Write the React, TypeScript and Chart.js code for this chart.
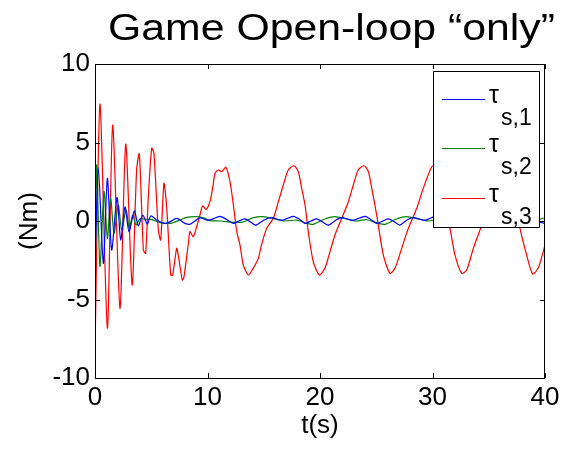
import React, { useEffect, useRef } from "react";
import { Chart, registerables } from "chart.js";

Chart.register(...registerables);

const FONT = '"Liberation Sans", Arial, Helvetica, sans-serif';

const titleText = "Game Open-loop \u201Conly\u201D";
const xTitle = "t(s)";
const yTitle = "(Nm)";
const legendMain = "\u03C4";
const legendSubs = ["s,1", "s,2", "s,3"];
const seriesColors = ["#0000ff", "#008000", "#ff0000"];

const xTicks = [0, 10, 20, 30, 40];
const yTicks = [-10, -5, 0, 5, 10];

// tau_s,1 (blue)
const tS1 = [
  0, 0.3, 0.74, 1.1, 1.48, 1.96, 2.28, 2.67, 3.02, 3.5, 3.85, 4.24, 4.65, 4.95, 5.5, 6.22, 6.7, 7.26, 8.0, 8.44,
  9.33, 9.93, 10.4, 11.1, 11.7, 12.3, 12.8, 13.33, 13.8, 14.3, 15.0, 15.7, 16.6, 17.63, 18.2, 18.67, 19.2, 19.7,
  20.2, 20.74, 21.4, 21.93, 22.9, 24.0, 24.5, 25.04, 25.6, 26.07, 26.6, 27.1, 27.7, 28.3, 29.3, 30.2, 30.8, 31.4,
  31.9, 32.4, 32.9, 33.5, 34.1, 34.7, 35.7, 36.6, 37.2, 37.8, 38.3, 38.8, 39.3, 40,
];
const tauS1 = [
  -2.7, 3.4, -2.7, 2.72, -1.85, 1.5, -1.2, 0.9, -0.68, 0.65, -0.3, 0.38, -0.2, 0.32, 0.05, -0.15, -0.04, 0.17, -0.15, -0.21,
  0.2, 0.06, 0.1, 0.3, 0.1, -0.15, 0.0, 0.13, -0.05, -0.26, 0.05, 0.21, 0.04, 0.3, 0.1, -0.15, 0.0, 0.13,
  -0.05, -0.26, 0.05, 0.21, 0.04, 0.3, 0.1, -0.15, 0.0, 0.13, -0.05, -0.26, 0.05, 0.21, 0.04, 0.28, 0.1, -0.15,
  0.0, 0.13, -0.05, -0.26, 0.05, 0.21, 0.04, 0.28, 0.1, -0.15, 0.0, 0.13, -0.05, -0.15,
];

// tau_s,2 (green)
const tS2 = [
  0, 0.15, 0.44, 0.8, 1.1, 1.39, 1.69, 2.07, 2.37, 2.76, 3.05, 3.35, 3.64, 4.0, 4.5, 5.0, 5.78, 6.7, 7.56, 8.15,
  9.04, 9.78, 10.2, 11.1, 12.44, 13.19, 14.07, 14.96, 16.0, 16.9, 17.93, 18.81, 19.4, 20.44, 21.33, 22.37, 23.2,
  24.15, 25.19, 25.8, 26.8, 27.7, 28.74, 29.63, 30.5, 31.5, 32.1, 33.1, 34.0, 35.0, 35.9, 36.8, 37.8, 38.4, 39.4, 40,
];
const tauS2 = [
  -5.4, 3.57, -2.9, 1.87, -1.1, 1.45, -0.79, 1.02, -0.57, 0.7, -0.47, 0.38, -0.26, 0.15, 0.1, 0.1, -0.1, -0.15, 0.06, 0.23,
  0.28, 0.17, 0.02, 0.0, -0.09, -0.06, 0.21, 0.28, 0.13, 0.0, 0.06, -0.15, -0.21, 0.13, 0.28, 0.13, 0.0,
  0.08, -0.15, -0.21, 0.13, 0.28, 0.13, 0.0, 0.06, -0.15, -0.21, 0.13, 0.28, 0.13, 0.0, 0.06, -0.15, -0.21, 0.1, 0.2,
];

// tau_s,3 (red)
const tS3 = [
  0, 0.44, 1.1, 1.57, 2.22, 2.73, 3.3, 3.7, 3.94, 4.3, 4.5, 4.74, 5.04, 5.24, 5.63, 5.84, 6.13, 6.37, 6.73, 6.9,
  7.26, 7.4, 7.76, 7.9, 8.3, 8.44, 8.74, 9.04, 9.33, 9.57, 9.87, 10.22, 10.5, 10.67, 10.96, 11.26, 11.64, 12.0,
  12.3, 12.6, 12.89, 13.18, 13.63, 14.07, 14.52, 14.8, 15.26, 15.85, 16.3, 16.74, 17.18, 17.69, 18.07, 18.37,
  18.67, 18.96, 19.4, 19.94, 20.44, 20.89, 21.33, 21.93, 22.52, 22.96, 23.4, 23.91, 24.3, 24.6, 25.04, 25.63,
  26.22, 26.67, 27.26, 27.85, 28.6, 29.18, 29.93, 30.3, 30.7, 31.0, 31.56, 32.0, 32.6, 33.04, 33.63, 34.22,
  34.9, 35.5, 36.2, 36.6, 37.0, 37.3, 37.78, 38.37, 38.9, 39.4, 40,
];
const tauS3 = [
  -8.2, 7.45, -6.83, 6.11, -5.56, 4.9, -4.08, 3.25, 4.27, -1.85, -2.06, 1.55, 4.63, 4.31, -0.57, -1.21, 2.4, 0.91, -3.44, -3.44,
  -1.74, -2.17, -3.76, -3.6, -1.42, -0.68, -1.0, -0.36, 0.38, 0.96, 0.74, 1.23, 2.3, 3.04, 3.25, 3.14, 3.42, 2.5,
  1.02, -0.68, -1.53, -2.8, -3.44, -3.0, -2.38, -1.53, -0.47, 0.17, 1.23, 2.29, 3.25, 3.52, 3.14, 2.08,
  1.02, -0.68, -2.59, -3.44, -3.0, -1.95, -0.89, 0.17, 1.23, 2.29, 3.25, 3.52, 3.14, 2.08, 0.38, -2.17,
  -3.33, -3.0, -1.74, -0.47, 0.81, 2.08, 3.46, 3.5, 3.0, 1.6, -0.47, -2.17, -3.33, -3.12, -1.74, -0.57,
  0.9, 2.2, 3.4, 3.5, 3.0, 1.8, -0.47, -2.17, -3.37, -3.0, -1.53,
];

const seriesT = [tS1, tS2, tS3];
const seriesV = [tauS1, tauS2, tauS3];

const framePlugin = {
  id: "matlabFrame",
  afterDraw(chart: any) {
    const { ctx, chartArea } = chart;
    const { left, right, top, bottom } = chartArea;
    const xs = chart.scales.x;
    const ys = chart.scales.y;
    ctx.save();
    ctx.strokeStyle = "#000";
    ctx.lineWidth = 1;
    ctx.strokeRect(Math.round(left) + 0.5, Math.round(top) + 0.5, Math.round(right - left) - 1, Math.round(bottom - top));
    const tl = 5;
    ctx.beginPath();
    xTicks.forEach((v) => {
      const px = Math.round(xs.getPixelForValue(v)) + 0.5;
      ctx.moveTo(px, bottom);
      ctx.lineTo(px, bottom - tl);
      ctx.moveTo(px, top);
      ctx.lineTo(px, top + tl);
    });
    yTicks.forEach((v) => {
      const py = Math.round(ys.getPixelForValue(v)) + 0.5;
      ctx.moveTo(left, py);
      ctx.lineTo(left + tl, py);
      ctx.moveTo(right, py);
      ctx.lineTo(right - tl, py);
    });
    ctx.stroke();

    // Legend box
    const lx = 433, ly = 71, lw = 106, lh = 156;
    ctx.fillStyle = "#fff";
    ctx.fillRect(lx, ly, lw, lh);
    ctx.strokeStyle = "#000";
    ctx.beginPath();
    ctx.rect(lx + 0.5, ly + 0.5, lw, lh);
    ctx.stroke();
    for (let i = 0; i < legendSubs.length; i++) {
      const yLine = Math.round(99 + i * 49.3);
      ctx.beginPath();
      ctx.strokeStyle = seriesColors[i];
      ctx.lineWidth = 1.2;
      ctx.moveTo(442, yLine + 0.5);
      ctx.lineTo(485, yLine + 0.5);
      ctx.stroke();
      ctx.fillStyle = "#000";
      ctx.textAlign = "left";
      ctx.textBaseline = "alphabetic";
      ctx.font = `25px ${FONT}`;
      ctx.fillText(legendMain, 489, yLine + 4);
      ctx.font = `23px ${FONT}`;
      ctx.fillText(legendSubs[i], 501, yLine + 26);
    }

    // Title
    ctx.font = `36px ${FONT}`;
    ctx.fillStyle = "#000";
    ctx.textAlign = "left";
    ctx.textBaseline = "alphabetic";
    const w = ctx.measureText(titleText).width;
    const targetW = 447;
    ctx.translate(108, 40);
    ctx.scale(targetW / w, 1);
    ctx.fillText(titleText, 0, 0);
    ctx.restore();
  },
};

export default function App() {
  const canvasRef = useRef<HTMLCanvasElement | null>(null);

  useEffect(() => {
    const canvas = canvasRef.current;
    if (!canvas) return;
    const datasets = seriesV.map((vals, i) => ({
      label: legendMain + legendSubs[i],
      data: vals.map((v, j) => ({ x: seriesT[i][j], y: v })),
      borderColor: seriesColors[i],
      backgroundColor: seriesColors[i],
      borderWidth: 1.2,
      pointRadius: 0,
      tension: 0.25,
      fill: false,
    }));
    const chart = new Chart(canvas, {
      type: "line",
      data: { datasets },
      plugins: [framePlugin],
      options: {
        animation: false,
        responsive: false,
        maintainAspectRatio: false,
        devicePixelRatio: 1,
        layout: { padding: { top: 64, right: 19, left: 0, bottom: 0 } },
        plugins: { legend: { display: false }, title: { display: false }, tooltip: { enabled: false } },
        scales: {
          x: {
            type: "linear",
            min: 0,
            max: 40,
            afterFit: (s: any) => { s.height = 71; },
            afterBuildTicks: (s: any) => { s.ticks = xTicks.map((v) => ({ value: v })); },
            ticks: { font: { family: FONT, size: 26 }, color: "#000", padding: 4, maxRotation: 0, autoSkip: false },
            grid: { display: false, drawTicks: false },
            border: { display: false },
            title: { display: true, text: xTitle, color: "#000", font: { family: FONT, size: 26 }, padding: { top: 0, bottom: 8 } },
          },
          y: {
            type: "linear",
            min: -10,
            max: 10,
            afterFit: (s: any) => { s.width = 95; },
            afterBuildTicks: (s: any) => { s.ticks = yTicks.map((v) => ({ value: v })); },
            ticks: { font: { family: FONT, size: 26 }, color: "#000", padding: 5 },
            grid: { display: false, drawTicks: false },
            border: { display: false },
            title: { display: true, text: yTitle, color: "#000", font: { family: FONT, size: 26 }, padding: { top: 14, bottom: 0 } },
          },
        },
      },
    });
    return () => chart.destroy();
  }, []);

  return (
    <div style={{ position: "fixed", left: 0, top: 0, width: 564, height: 449, background: "#fff" }}>
      <canvas ref={canvasRef} width={564} height={449} style={{ display: "block", width: 564, height: 449 }} />
    </div>
  );
}
